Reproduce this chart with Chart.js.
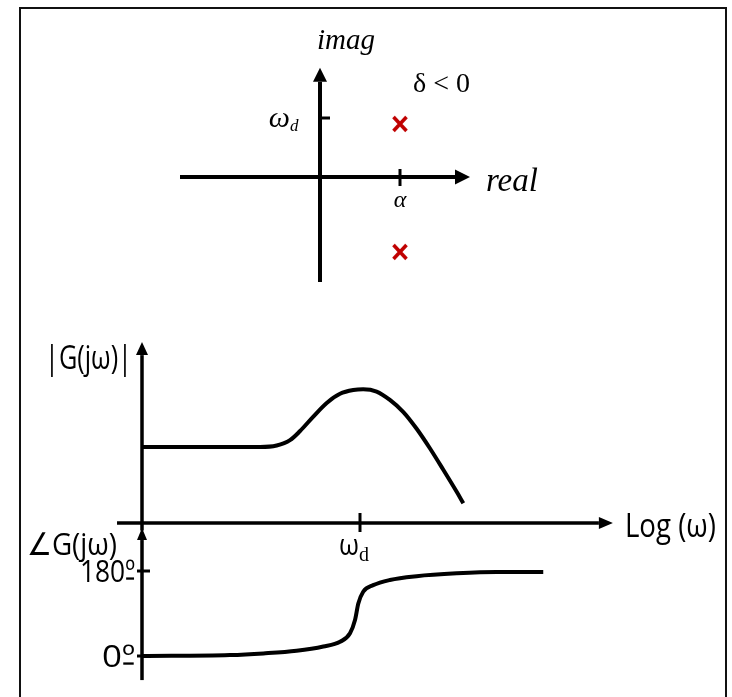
<!DOCTYPE html>
<html>
<head>
<meta charset="utf-8">
<title>Unstable complex poles: s-plane and Bode plot</title>
<script src="https://cdn.jsdelivr.net/npm/chart.js@4.4.1/dist/chart.umd.min.js"></script>
<style>
  body { margin: 0; background: #fff; }
  #wrap { position: relative; width: 732px; height: 697px; overflow: hidden; }
  #frame { position: absolute; left: 19px; top: 7px; width: 704px; height: 740px; border: 2px solid #111; }
  #chart { position: absolute; left: 0; top: 0; }
</style>
</head>
<body>
<div id="wrap">
  <div id="frame"></div>
  <canvas id="chart" width="732" height="697"></canvas>
</div>
<script>
// s-plane: pole pair to the right of the imaginary axis (delta < 0)
const poleRe = [1, 1];
const poleIm = [0.9, -1.27];
const reRange = [-1.75, 1.875];
const imRange = [-1.78, 1.85];
const reTicks = [1];          // alpha
const imTicks = [1];          // omega_d

// Bode magnitude |G(jw)|, arbitrary units
const magOmega = [0.01, 0.064, 0.121, 0.172, 0.228, 0.282, 0.373, 0.495, 0.656, 0.868, 1.07,
                  1.42, 1.88, 2.5, 3.31, 4.39, 5.81, 7.71, 8.87];
const magValue = [1.0, 1.0, 1.0, 1.02, 1.09, 1.21, 1.40, 1.58, 1.70, 1.75, 1.76,
                  1.73, 1.62, 1.46, 1.24, 0.98, 0.70, 0.41, 0.26];

// Bode phase, degrees
const phaseOmega = [0.01, 0.064, 0.13, 0.262, 0.461, 0.656, 0.81, 0.90, 0.965, 1.07, 1.32,
                    1.88, 3.31, 7.71, 17.9, 48];
const phaseValue = [0, 2, 5.5, 11, 20, 30, 48, 76, 111, 136, 150,
                    161, 169, 175, 178, 178];

const omegaRange = [0.0059, 209];
const magRange = [-0.1, 2.38];
const phaseRange = [-51, 271];
const omegaTicks = [1];       // omega_d
const phaseTicks = [0, 180];
const phaseTickLabels = ['0º', '180º'];

const W = 732, H = 697;
// pick a hidden scale's min/max so that value v0 sits at pixel p0 and v1 at p1
function linX(p0, v0, p1, v1) {
  const k = (v1 - v0) / (p1 - p0);
  return { min: v0 - p0 * k, max: v0 + (W - p0) * k };
}
function linY(p0, v0, p1, v1) {
  const k = (v1 - v0) / (p0 - p1);
  return { min: v0 + (p0 - H) * k, max: v0 + p0 * k };
}
function logX(p0, w0, p1, w1) {
  const r = linX(p0, Math.log10(w0), p1, Math.log10(w1));
  return { min: Math.pow(10, r.min), max: Math.pow(10, r.max) };
}

const SERIF = '"Liberation Serif", "DejaVu Serif", serif';
const SANS = '"Open Sans", "Noto Sans", "DejaVu Sans", sans-serif';

function arrow(ctx, x0, y0, x1, y1, width, len, half) {
  const a = Math.atan2(y1 - y0, x1 - x0);
  const bx = x1 - len * Math.cos(a), by = y1 - len * Math.sin(a);
  ctx.lineWidth = width;
  ctx.beginPath();
  ctx.moveTo(x0, y0);
  ctx.lineTo(bx, by);
  ctx.stroke();
  ctx.beginPath();
  ctx.moveTo(x1, y1);
  ctx.lineTo(bx + half * Math.sin(a), by - half * Math.cos(a));
  ctx.lineTo(bx - half * Math.sin(a), by + half * Math.cos(a));
  ctx.closePath();
  ctx.fill();
}
function line(ctx, x0, y0, x1, y1, width) {
  ctx.lineWidth = width;
  ctx.beginPath();
  ctx.moveTo(x0, y0);
  ctx.lineTo(x1, y1);
  ctx.stroke();
}
function text(ctx, s, x, y, font, align) {
  ctx.font = font;
  ctx.textAlign = align || 'left';
  ctx.textBaseline = 'alphabetic';
  ctx.fillText(s, x, y);
}
// sans labels squeezed into a given box: left/right edges, baseline, vertical stretch
function boxText(ctx, s, left, right, base, size, sy) {
  ctx.save();
  ctx.font = size + 'px ' + SANS;
  ctx.textAlign = 'left';
  ctx.textBaseline = 'alphabetic';
  const sx = (right - left) / ctx.measureText(s).width;
  ctx.translate(left, base);
  ctx.scale(sx, sy || 1);
  ctx.fillText(s, 0, 0);
  // ordinal sign gets its underline bar
  if (s.endsWith('º')) {
    const x0 = ctx.measureText(s.slice(0, -1)).width;
    ctx.fillRect(x0 + 1, -4, ctx.measureText('º').width - 2, 2);
  }
  ctx.restore();
}

// red bold X used as the pole marker
function poleMark() {
  const c = document.createElement('canvas');
  c.width = 18; c.height = 20;
  const g = c.getContext('2d');
  g.strokeStyle = '#c00000';
  g.lineWidth = 3.6;
  g.beginPath();
  g.moveTo(2.5, 3); g.lineTo(15.5, 17);
  g.moveTo(15.5, 3); g.lineTo(2.5, 17);
  g.stroke();
  return c;
}

// axes, arrows, ticks and labels for both diagrams
const axesPlugin = {
  id: 'axesPlugin',
  beforeDatasetsDraw(chart) {
    const { ctx } = chart;
    const { xp, yp, xw, ym, yph } = chart.scales;
    ctx.save();
    ctx.strokeStyle = '#000';
    ctx.fillStyle = '#000';

    // s-plane
    const ox = xp.getPixelForValue(0), oy = yp.getPixelForValue(0);
    const reTip = xp.getPixelForValue(reRange[1]);
    const imTip = yp.getPixelForValue(imRange[1]);
    arrow(ctx, xp.getPixelForValue(reRange[0]), oy, reTip, oy, 4, 15, 7.5);
    arrow(ctx, ox, yp.getPixelForValue(imRange[0]), ox, imTip, 4, 14, 7);
    reTicks.forEach(v => {
      const x = xp.getPixelForValue(v);
      line(ctx, x, oy - 8, x, oy + 9, 3);
      text(ctx, 'α', x, oy + 30, 'italic 24px ' + SERIF, 'center');
    });
    imTicks.forEach(v => {
      const y = yp.getPixelForValue(v);
      line(ctx, ox, y, ox + 10, y, 3);
      text(ctx, 'ω', ox - 30, y + 9, 'italic 30px ' + SERIF, 'right');
      text(ctx, 'd', ox - 30, y + 13, 'italic 17px ' + SERIF, 'left');
    });
    text(ctx, 'imag', ox + 26, imTip - 19, 'italic 29px ' + SERIF, 'center');
    text(ctx, 'real', reTip + 16, oy + 14, 'italic 33px ' + SERIF, 'left');
    text(ctx, 'δ < 0', ox + 93, imTip + 24, '28px ' + SERIF, 'left');

    // Bode axes
    const wx = xw.getPixelForValue(omegaRange[0]);
    const wTip = xw.getPixelForValue(omegaRange[1]);
    const ay = ym.getPixelForValue(0);
    const vx = xw.getPixelForValue(magOmega[0]);
    arrow(ctx, wx, ay, wTip, ay, 3.5, 14, 6);
    arrow(ctx, vx, ym.getPixelForValue(magRange[0]), vx, ym.getPixelForValue(magRange[1]), 3.5, 13, 6);
    arrow(ctx, vx, yph.getPixelForValue(phaseRange[0]), vx, yph.getPixelForValue(phaseRange[1]), 3.5, 12, 5);
    omegaTicks.forEach(v => {
      const x = xw.getPixelForValue(v);
      line(ctx, x, ay - 10, x, ay + 9, 3);
      boxText(ctx, 'ω', x - 21, x - 1, ay + 32, 26, 1.1);
      text(ctx, 'd', x - 1, ay + 38, '20px ' + SERIF, 'left');
    });
    phaseTicks.forEach((v, i) => {
      const y = yph.getPixelForValue(v);
      line(ctx, vx - 5, y, vx + 8, y, 3);
      const w = phaseTickLabels[i].length > 2 ? 55 : 33;
      boxText(ctx, phaseTickLabels[i], vx - 7 - w, vx - 7, y + 11, 27, 1.15);
    });
    boxText(ctx, '|G(jω)|', 45, 132, ym.getPixelForValue(magRange[1]) + 27, 28, 1.15);
    boxText(ctx, '∠G(jω)', 27, 117, ay + 32, 28, 1.12);
    boxText(ctx, 'Log (ω)', wTip + 12, wTip + 103, ay + 14, 28, 1.15);
    ctx.restore();
  }
};

const xpRange = linX(320, 0, 400, 1);
const ypRange = linY(177, 0, 118, 1);
const xwRange = logX(142, 0.01, 360, 1);
const ymRange = linY(523, 0, 447, 1);
const yphRange = linY(656, 0, 571, 180);

function hidden(axis, type, r) {
  return { axis, type, min: r.min, max: r.max, bounds: 'data', display: false, grid: { display: false } };
}

new Chart(document.getElementById('chart').getContext('2d'), {
  type: 'scatter',
  data: {
    datasets: [
      {
        label: 'poles',
        xAxisID: 'xp',
        yAxisID: 'yp',
        data: poleRe.map((re, i) => ({ x: re, y: poleIm[i] })),
        pointStyle: poleMark(),
        pointRadius: 9
      },
      {
        label: '|G(jω)|',
        xAxisID: 'xw',
        yAxisID: 'ym',
        data: magOmega.map((w, i) => ({ x: w, y: magValue[i] })),
        showLine: true,
        cubicInterpolationMode: 'monotone',
        borderColor: '#000',
        borderWidth: 4,
        pointRadius: 0
      },
      {
        label: '∠G(jω)',
        xAxisID: 'xw',
        yAxisID: 'yph',
        data: phaseOmega.map((w, i) => ({ x: w, y: phaseValue[i] })),
        showLine: true,
        cubicInterpolationMode: 'monotone',
        borderColor: '#000',
        borderWidth: 4,
        pointRadius: 0
      }
    ]
  },
  options: {
    responsive: false,
    animation: false,
    devicePixelRatio: 1,
    layout: { padding: 0, autoPadding: false },
    plugins: { legend: { display: false }, tooltip: { enabled: false } },
    scales: {
      xp: hidden('x', 'linear', xpRange),
      yp: hidden('y', 'linear', ypRange),
      xw: hidden('x', 'logarithmic', xwRange),
      ym: hidden('y', 'linear', ymRange),
      yph: hidden('y', 'linear', yphRange)
    }
  },
  plugins: [axesPlugin]
});
</script>
</body>
</html>
